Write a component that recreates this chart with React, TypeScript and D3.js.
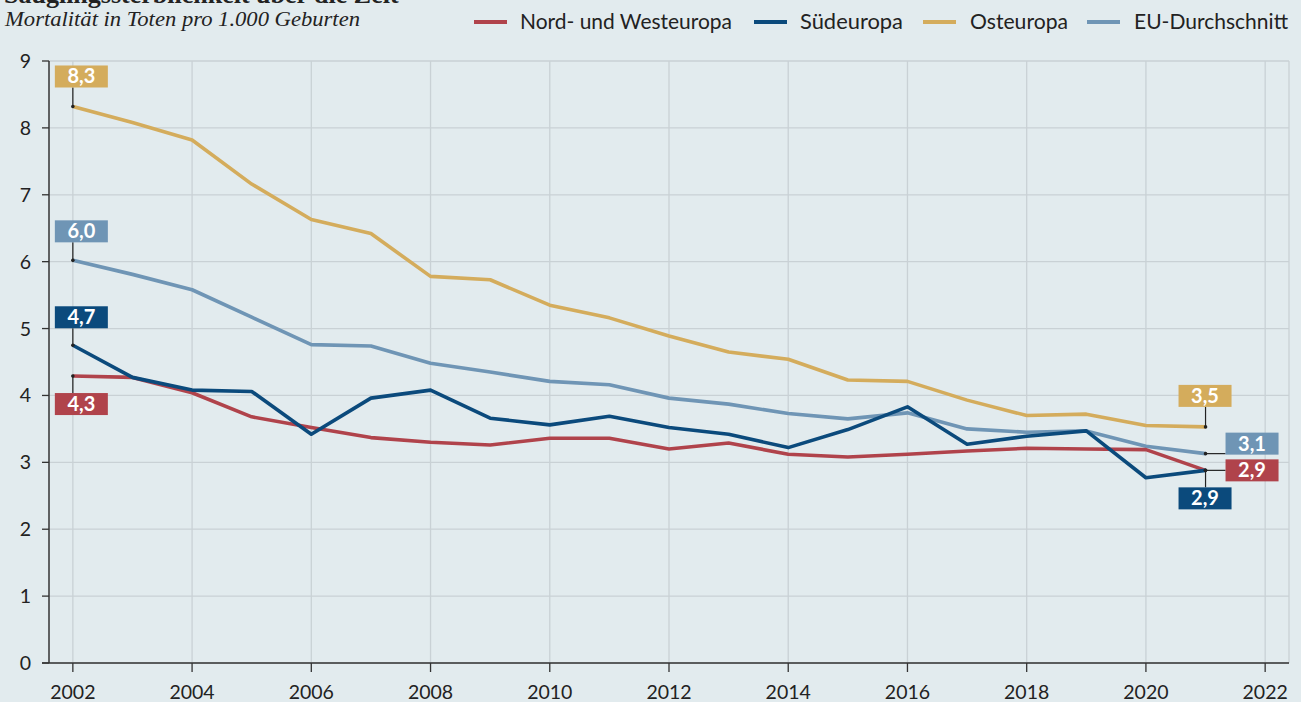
import React from "react";
import * as d3 from "d3";

const years = [2002,2003,2004,2005,2006,2007,2008,2009,2010,2011,2012,2013,2014,2015,2016,2017,2018,2019,2020,2021];
const nordWest = [4.29,4.27,4.04,3.68,3.52,3.37,3.30,3.26,3.36,3.36,3.20,3.29,3.12,3.08,3.12,3.17,3.21,3.20,3.19,2.88];
const sued = [4.75,4.27,4.08,4.06,3.42,3.96,4.08,3.66,3.56,3.69,3.52,3.42,3.22,3.49,3.83,3.27,3.39,3.47,2.77,2.88];
const ost = [8.32,8.08,7.82,7.16,6.63,6.42,5.78,5.73,5.35,5.16,4.89,4.65,4.54,4.23,4.21,3.93,3.70,3.72,3.55,3.53];
const eu = [6.02,5.81,5.58,5.17,4.76,4.74,4.48,4.35,4.21,4.16,3.96,3.87,3.73,3.65,3.74,3.50,3.45,3.47,3.24,3.13];
const yTicks = [0,1,2,3,4,5,6,7,8,9];
const xTicks = [2002,2004,2006,2008,2010,2012,2014,2016,2018,2020,2022];
const seriesNames = ["Nord- und Westeuropa","Südeuropa","Osteuropa","EU-Durchschnitt"];
const startLabels = ["4,3","4,7","8,3","6,0"];
const endLabels = ["2,9","2,9","3,5","3,1"];

const colors = ["#b0434b","#0b4a7c","#d4ac5c","#6f95b5"];
const BG = "#e2ebee";
const FONT = "Lato, 'Noto Sans', sans-serif";

export default function App() {
  const W = 1301, H = 702;
  const x = d3.scaleLinear().domain([2001.6, 2022.4]).range([49, 1289]);
  const y = d3.scaleLinear().domain([0, 9]).range([663, 61]);
  const data = [nordWest, sued, ost, eu];
  const line = d3.line<number>().x((_, i) => x(years[i])).y(d => y(d));

  const boxW = 53, boxH = 22;
  const last = years.length - 1;
  const startPos = [
    { bx: -18, by: 17, vert: true },
    { bx: -18, by: -39, vert: true },
    { bx: -18, by: -41, vert: true },
    { bx: -18, by: -40, vert: true },
  ];
  const endPos = [
    { bx: 20, by: -11, vert: false },
    { bx: -27, by: 17, vert: true },
    { bx: -27, by: -42, vert: true },
    { bx: 20, by: -21, vert: false },
  ];

  const legendItems = [
    { sx: 474, tx: 520, tw: 212 },
    { sx: 754, tx: 800, tw: 103 },
    { sx: 923, tx: 970, tw: 98 },
    { sx: 1087, tx: 1134, tw: 154 },
  ];

  const renderLabel = (i: number, idx: number, text: string, pos: any, key: string) => {
    const px = x(years[idx]);
    const py = y(data[i][idx]);
    const bx = px + pos.bx;
    const by = py + pos.by;
    let conn;
    if (pos.vert) {
      const ey = pos.by < 0 ? by + boxH : by;
      conn = <line x1={px} y1={py} x2={px} y2={ey} stroke="#222" strokeWidth={1.2} />;
    } else {
      conn = <line x1={px} y1={py} x2={bx} y2={py} stroke="#222" strokeWidth={1.2} />;
    }
    return (
      <g key={key}>
        {conn}
        <circle cx={px} cy={py} r={1.8} fill="#222" />
        <rect x={bx} y={by} width={boxW} height={boxH} fill={colors[i]} />
        <text x={bx + boxW / 2} y={by + boxH / 2 + 7} textAnchor="middle" fill="#fff"
          fontFamily={FONT} fontWeight={700} fontSize={20}>{text}</text>
      </g>
    );
  };

  return (
    <svg width={W} height={H} style={{ position: "fixed", left: 0, top: 0, display: "block", background: BG }}>
      <rect x={0} y={0} width={W} height={H} fill={BG} />
      <text x={4} y={3} fontFamily="'Liberation Serif', serif" fontWeight={700} fontSize={26} fill="#222">
        Säuglingssterblichkeit über die Zeit
      </text>
      <text x={5} y={26} fontFamily="'Liberation Serif', serif" fontStyle="italic" fontSize={21}
        textLength={355} lengthAdjust="spacingAndGlyphs" fill="#222">
        Mortalität in Toten pro 1.000 Geburten
      </text>
      {seriesNames.map((n, i) => (
        <g key={n}>
          <line x1={legendItems[i].sx} x2={legendItems[i].sx + 33} y1={22} y2={22} stroke={colors[i]} strokeWidth={4} />
          <text x={legendItems[i].tx} y={29} fontFamily={FONT} fontSize={22} fill="#222"
            textLength={legendItems[i].tw} lengthAdjust="spacingAndGlyphs">{n}</text>
        </g>
      ))}
      {yTicks.map(t => (
        <line key={"gy" + t} x1={49} x2={1289} y1={y(t)} y2={y(t)} stroke="#c9d1d5" strokeWidth={1.3} />
      ))}
      {xTicks.map(t => (
        <line key={"gx" + t} x1={x(t)} x2={x(t)} y1={61} y2={663} stroke="#c9d1d5" strokeWidth={1.3} />
      ))}
      <line x1={1289} x2={1289} y1={61} y2={663} stroke="#c9d1d5" strokeWidth={1.3} />
      <line x1={49} x2={49} y1={61} y2={663} stroke="#333" strokeWidth={1.5} />
      <line x1={42} x2={1289} y1={663} y2={663} stroke="#333" strokeWidth={1.5} />
      {yTicks.map(t => (
        <g key={"ty" + t}>
          <line x1={42} x2={49} y1={y(t)} y2={y(t)} stroke="#333" strokeWidth={1.3} />
          <text x={31} y={y(t) + 7} textAnchor="end" fontFamily={FONT} fontSize={19.5} fill="#222">{t}</text>
        </g>
      ))}
      {xTicks.map(t => (
        <g key={"tx" + t}>
          <line x1={x(t)} x2={x(t)} y1={663} y2={672} stroke="#333" strokeWidth={1.3} />
          <text x={x(t)} y={699} textAnchor="middle" fontFamily={FONT} fontSize={19.5} fill="#222">{t}</text>
        </g>
      ))}
      {[3, 2, 0, 1].map(i => (
        <path key={"l" + i} d={line(data[i]) || ""} fill="none" stroke={colors[i]} strokeWidth={3.6} strokeLinejoin="round" />
      ))}
      {[0, 1, 2, 3].map(i => renderLabel(i, 0, startLabels[i], startPos[i], "s" + i))}
      {[0, 1, 2, 3].map(i => renderLabel(i, last, endLabels[i], endPos[i], "e" + i))}
    </svg>
  );
}
